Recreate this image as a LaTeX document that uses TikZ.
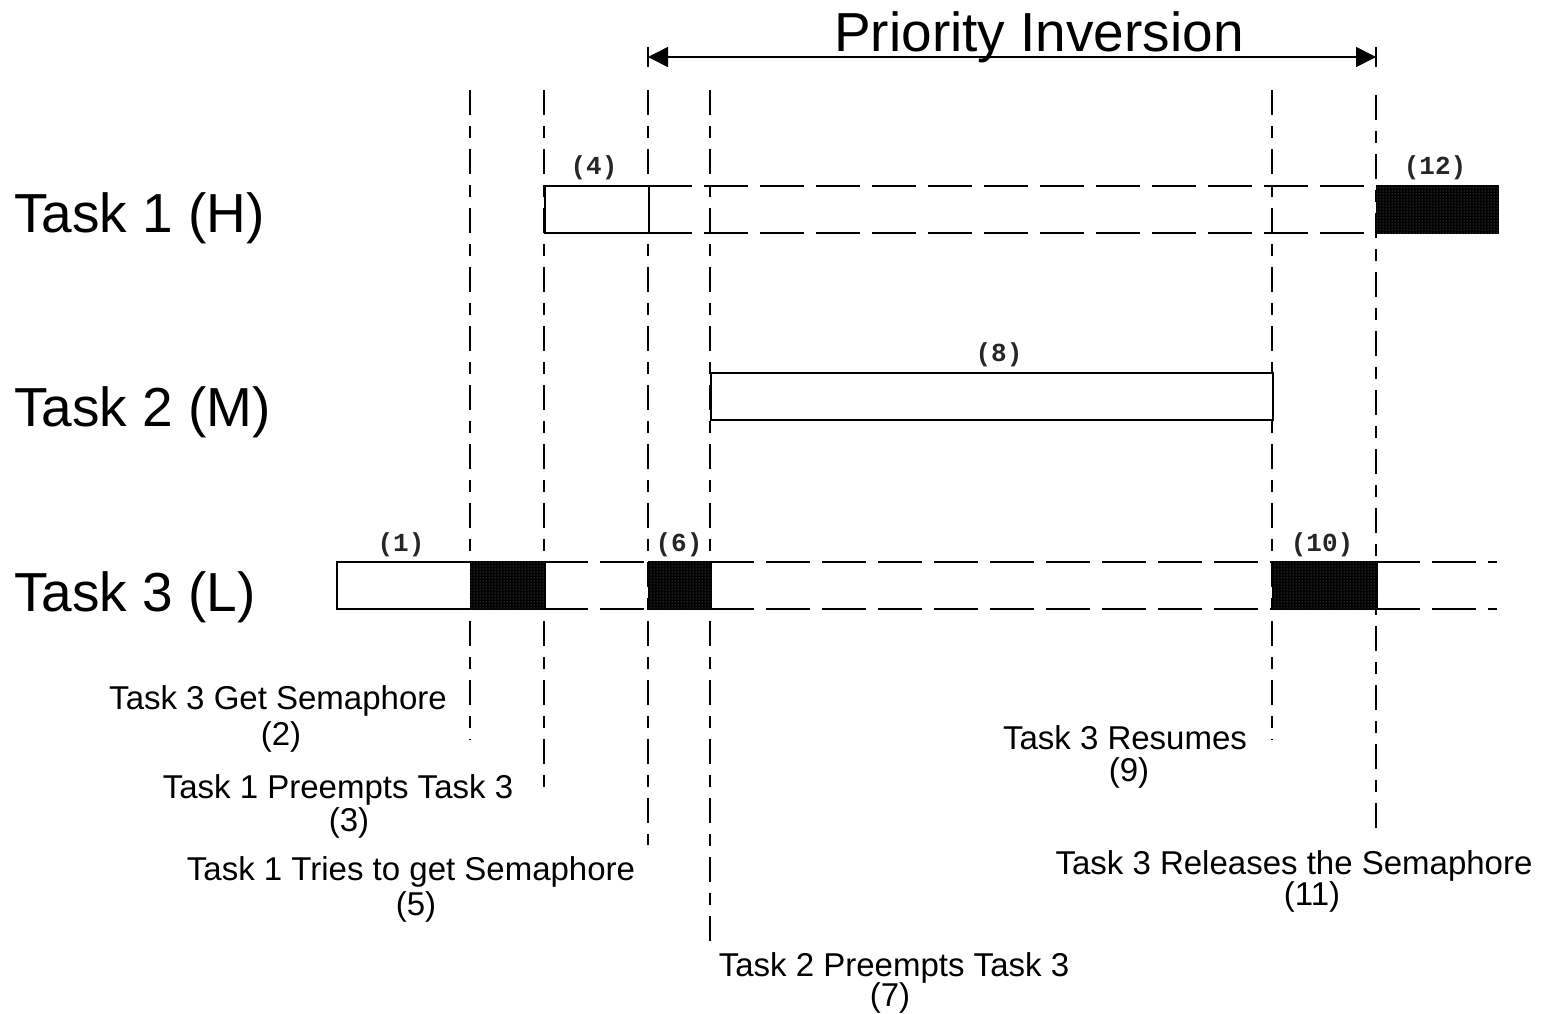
\documentclass[tikz,border=0pt]{standalone}
\usepackage{fontspec}
\setmainfont{Liberation Sans}
\newfontfamily\monof{Liberation Mono}
\usetikzlibrary{arrows.meta,patterns}
\tikzset{
  bigtxt/.style={font=\fontsize{55}{60}\selectfont, inner sep=0pt},
  smalltxt/.style={font=\fontsize{33}{38}\selectfont, inner sep=0pt},
  monotxt/.style={font=\monof\bfseries\fontsize{26}{30}\selectfont, inner sep=0pt, text=black!85},
  taskbar/.style={draw, line width=1.8pt, minimum height=47pt, inner sep=0pt, anchor=west},
  busybar/.style={taskbar, fill=black, postaction={pattern=dots, pattern color=black!50}},
  vline/.style={line width=1.6pt, dash pattern=on 25pt off 11pt on 12pt off 11pt},
  hline/.style={line width=1.6pt, dash pattern=on 44pt off 12pt}
}
\begin{document}
\begin{tikzpicture}[x=1pt,y=-1pt]
\useasboundingbox (0,0) rectangle (1545,1013);

% title and arrow
\node[bigtxt] (title) at (1039,37) {Priority Inversion};
\coordinate (pa) at (648,57);
\coordinate (pb) at (1376,57);
\draw[line width=1.8pt, {Triangle[length=20pt,width=20pt]}-{Triangle[length=20pt,width=20pt]}] (pa) -- (pb);
\draw[line width=1.8pt] ([yshift=10pt]pa) -- ([yshift=-10pt]pa);
\draw[line width=1.8pt] ([yshift=10pt]pb) -- ([yshift=-10pt]pb);

% task labels
\node[bigtxt, anchor=west] (task1) at (14,218) {Task 1 (H)};
\node[bigtxt, anchor=west] (task2) at (14,412) {Task 2 (M)};
\node[bigtxt, anchor=west] (task3) at (14,597) {Task 3 (L)};

% vertical dashed lines
\coordinate (v1a) at (470,90);   \coordinate (v1b) at (470,740);
\coordinate (v2a) at (544,90);   \coordinate (v2b) at (544,795);
\coordinate (v3a) at (648,90);   \coordinate (v3b) at (648,845);
\coordinate (v4a) at (710,90);   \coordinate (v4b) at (710,950);
\coordinate (v5a) at (1272,90);  \coordinate (v5b) at (1272,740);
\coordinate (v6a) at (1376,95);  \coordinate (v6b) at (1376,835);
\foreach \i in {1,...,6} { \draw[vline] (v\i a) -- (v\i b); }

% horizontal dashed (waiting) lines
\draw[hline] (648,186) -- (1376,186);
\draw[hline] (648,233) -- (1376,233);
\draw[hline] (544,562) -- (648,562);
\draw[hline] (544,609) -- (648,609);
\draw[hline] (710,562) -- (1272,562);
\draw[hline] (710,609) -- (1272,609);
\draw[hline] (1376,562) -- (1497,562);
\draw[hline] (1376,609) -- (1497,609);

% Task 1 bars
\node[taskbar, fill=white, minimum width=104pt] (b4) at (544,209.5) {};
\node[busybar, minimum width=121pt] (b12) at (1376,209.5) {};
% Task 2 bar
\node[taskbar, fill=white, minimum width=562pt] (b8) at (710,396.5) {};
% Task 3 bars
\node[taskbar, fill=white, minimum width=134pt] (b1) at (336,585.5) {};
\node[busybar, minimum width=74pt] (b2) at (470,585.5) {};
\node[busybar, minimum width=62pt] (b6) at (648,585.5) {};
\node[busybar, minimum width=104pt] (b10) at (1272,585.5) {};

% bar labels
\node[monotxt] (n4) at (594,168) {(4)};
\node[monotxt] (n12) at (1435,168) {(12)};
\node[monotxt] (n8) at (999,355) {(8)};
\node[monotxt] (n1) at (401,545) {(1)};
\node[monotxt] (n6) at (679,545) {(6)};
\node[monotxt] (n10) at (1322,545) {(10)};

% event labels
\node[smalltxt] (e2) at (278,701) {Task 3 Get Semaphore};
\node[smalltxt] (k2) at (281,737) {(2)};
\node[smalltxt] (e3) at (338,790) {Task 1 Preempts Task 3};
\node[smalltxt] (k3) at (349,823) {(3)};
\node[smalltxt] (e5) at (411,872) {Task 1 Tries to get Semaphore};
\node[smalltxt] (k5) at (416,907) {(5)};
\node[smalltxt] (e9) at (1125,738) {Task 3 Resumes};
\node[smalltxt] (k9) at (1129,773) {(9)};
\node[smalltxt] (e11) at (1294,866) {Task 3 Releases the Semaphore};
\node[smalltxt] (k11) at (1312,897) {(11)};
\node[smalltxt] (e7) at (894,968) {Task 2 Preempts Task 3};
\node[smalltxt] (k7) at (890,998) {(7)};
\end{tikzpicture}
\end{document}
